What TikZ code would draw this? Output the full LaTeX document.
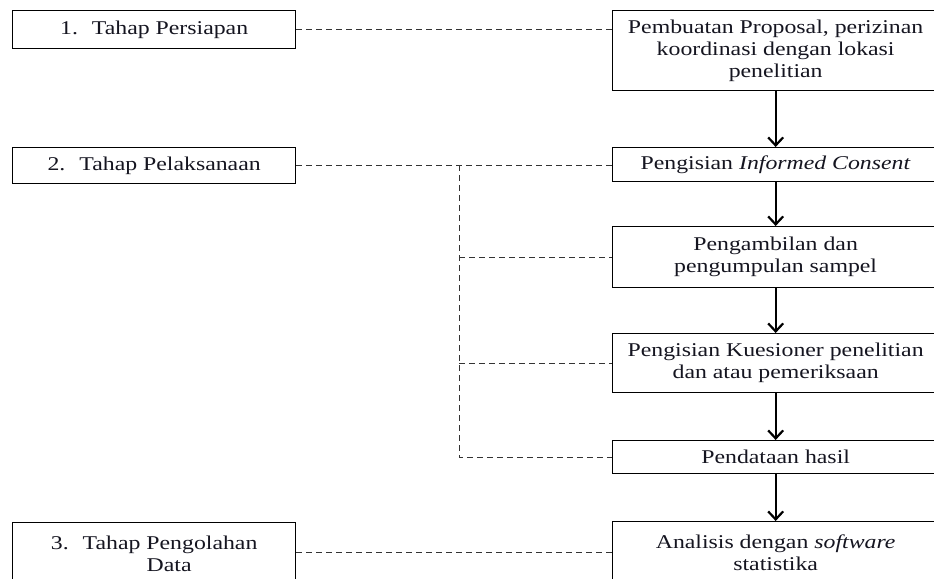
\documentclass[tikz,border=0pt]{standalone}
\usepackage{fontspec}
\setmainfont{Liberation Serif}[FakeStretch=1.22]
\usetikzlibrary{arrows.meta}
\definecolor{txt}{HTML}{151520}
\tikzset{
  box/.style={draw=black, line width=1.3bp, align=center, inner sep=0pt, anchor=north west,
    text=txt, font=\fontsize{19.5bp}{22bp}\selectfont},
  dashline/.style={draw=black!80, line width=1bp, dash pattern=on 6bp off 4bp},
  flow/.style={draw=black, line width=2.2bp, -{Straight Barb[length=8bp,width=15bp,line width=2.2bp]}},
}
\begin{document}
\begin{tikzpicture}[x=1bp,y=-1bp]
\useasboundingbox (0,0) rectangle (934,579);
\clip (0,0) rectangle (934,579);
% left column
\node[box, minimum width=283bp, minimum height=38bp] (L1) at (12,10) {1.\hspace{14bp}Tahap Persiapan};
\node[box, minimum width=283bp, minimum height=36bp] (L2) at (12,147) {2.\hspace{14bp}Tahap Pelaksanaan};
\node[box, minimum width=283bp, minimum height=62bp] (L3) at (12,522) {3.\hspace{14bp}Tahap Pengolahan\\\hspace{30bp}Data};
% right column
\node[box, minimum width=326bp, minimum height=80bp] (R1) at (612,10) {Pembuatan Proposal, perizinan\\koordinasi dengan lokasi\\penelitian};
\node[box, minimum width=326bp, minimum height=34bp] (R2) at (612,147) {Pengisian \textit{Informed Consent}};
\node[box, minimum width=326bp, minimum height=61bp] (R3) at (612,226) {Pengambilan dan\\pengumpulan sampel};
\node[box, minimum width=326bp, minimum height=59bp] (R4) at (612,333) {Pengisian Kuesioner penelitian\\dan atau pemeriksaan};
\node[box, minimum width=326bp, minimum height=33bp] (R5) at (612,440) {Pendataan hasil};
\node[box, minimum width=326bp, minimum height=62bp] (R6) at (612,521) {Analisis dengan \textit{software}\\statistika};
% arrows
\draw[flow] (R1.south) -- (R2.north);
\draw[flow] (R2.south) -- (R3.north);
\draw[flow] (R3.south) -- (R4.north);
\draw[flow] (R4.south) -- (R5.north);
\draw[flow] (R5.south) -- (R6.north);
% dashed connectors
\draw[dashline] (L1.east) -- (L1.east -| R1.west);
\draw[dashline] (L2.east) -- (L2.east -| R2.west);
\coordinate (J) at (459,165);
\draw[dashline] (J) -- (J |- R5.west) -- (R5.west);
\draw[dashline] (J |- R3.west) -- (R3.west);
\draw[dashline] (J |- R4.west) -- (R4.west);
\draw[dashline] (L3.east |- R6.west) -- (R6.west);
\end{tikzpicture}
\end{document}
